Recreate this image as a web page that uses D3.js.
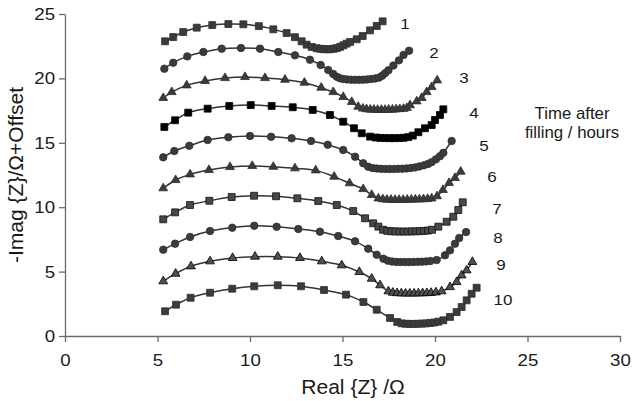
<!DOCTYPE html>
<html>
<head>
<meta charset="utf-8">
<script src="https://cdn.jsdelivr.net/npm/d3@7"></script>
<style>
  body { margin: 0; background: #fff; }
  text { font-family: "Liberation Sans", Arial, Helvetica, sans-serif; fill: #1a1a1a; }
</style>
</head>
<body>
<div id="chart"></div>
<script>
// spectra, one per time after filling (offset already added to -Imag)
const s1 = [[5.41,22.88],[5.85,23.21],[6.39,23.60],[7.12,23.94],[7.96,24.14],[8.83,24.22],[9.64,24.20],[10.48,24.06],[11.26,23.81],[11.98,23.52],[12.43,23.20],[12.79,22.88],[13.06,22.62],[13.34,22.44],[13.60,22.34],[13.80,22.30],[13.98,22.27],[14.16,22.26],[14.34,22.27],[14.52,22.30],[14.70,22.36],[14.88,22.45],[15.05,22.57],[15.22,22.70],[15.41,22.83],[15.77,23.04],[16.09,23.29],[16.49,23.73],[16.85,24.07],[17.17,24.43]];
const s2 = [[5.37,20.75],[5.85,21.22],[6.61,21.71],[7.48,22.05],[8.47,22.31],[9.51,22.36],[10.54,22.31],[11.53,22.05],[12.43,21.79],[13.24,21.45],[13.82,21.04],[14.23,20.65],[14.50,20.34],[14.69,20.13],[14.86,20.01],[15.04,19.95],[15.24,19.92],[15.46,19.90],[15.68,19.89],[15.89,19.89],[16.11,19.90],[16.32,19.92],[16.54,19.95],[16.76,19.99],[16.97,20.06],[17.14,20.20],[17.30,20.40],[17.48,20.63],[17.75,21.00],[18.05,21.40],[18.30,21.82],[18.60,22.15]];
const s3 = [[5.31,18.48],[5.77,18.94],[6.58,19.46],[7.57,19.80],[8.65,20.03],[9.73,20.11],[10.81,20.03],[11.89,19.90],[12.94,19.67],[13.85,19.28],[14.50,18.94],[15.04,18.56],[15.50,18.17],[15.85,17.80],[16.10,17.66],[16.30,17.61],[16.50,17.58],[16.70,17.57],[16.90,17.56],[17.10,17.56],[17.30,17.56],[17.50,17.57],[17.70,17.58],[17.90,17.60],[18.10,17.62],[18.30,17.64],[18.48,17.70],[18.65,17.92],[19.01,18.22],[19.28,18.48],[19.55,18.94],[19.82,19.33],[20.12,19.85]];
const s4 = [[5.37,16.23],[5.95,16.75],[6.66,17.34],[7.71,17.65],[8.88,17.86],[10.04,17.93],[11.17,17.86],[12.31,17.76],[13.39,17.55],[14.32,17.16],[15.04,16.64],[15.62,16.13],[16.04,15.74],[16.49,15.48],[16.80,15.41],[17.05,15.38],[17.30,15.37],[17.55,15.36],[17.80,15.36],[18.05,15.37],[18.30,15.39],[18.55,15.44],[18.80,15.56],[19.10,15.82],[19.46,16.13],[19.82,16.38],[20.00,16.77],[20.27,17.16],[20.45,17.60]];
const s5 = [[5.31,13.87],[5.91,14.36],[6.72,14.77],[7.71,15.22],[8.83,15.43],[10.00,15.53],[11.14,15.47],[12.25,15.35],[13.30,15.14],[14.20,14.85],[15.04,14.44],[15.68,13.92],[16.12,13.41],[16.39,13.14],[16.62,13.04],[16.85,13.00],[17.08,12.98],[17.31,12.97],[17.54,12.97],[17.77,12.97],[18.00,12.98],[18.23,12.99],[18.46,13.01],[18.69,13.04],[18.92,13.09],[19.15,13.16],[19.40,13.25],[19.62,13.36],[19.82,13.50],[20.05,13.72],[20.27,13.96],[20.45,14.22],[20.90,15.14]];
const s6 = [[5.31,11.47],[5.98,12.11],[6.76,12.55],[7.78,12.89],[8.92,13.12],[10.12,13.20],[11.26,13.14],[12.43,13.02],[13.55,12.86],[14.55,12.37],[15.38,11.86],[16.12,11.41],[16.58,10.95],[16.94,10.68],[17.18,10.62],[17.40,10.59],[17.62,10.58],[17.84,10.57],[18.06,10.57],[18.28,10.57],[18.50,10.58],[18.72,10.59],[18.94,10.60],[19.16,10.61],[19.38,10.62],[19.60,10.64],[19.82,10.68],[20.11,10.85],[20.43,11.34],[20.76,11.88],[21.08,12.27],[21.39,12.76]];
const s7 = [[5.31,9.06],[5.95,9.60],[6.76,10.17],[7.80,10.50],[9.01,10.79],[10.22,10.89],[11.41,10.85],[12.56,10.69],[13.69,10.48],[14.69,10.17],[15.58,9.70],[16.22,9.14],[16.66,8.75],[16.94,8.49],[17.19,8.25],[17.42,8.16],[17.64,8.13],[17.86,8.12],[18.08,8.11],[18.30,8.11],[18.52,8.11],[18.74,8.12],[18.96,8.13],[19.18,8.14],[19.40,8.16],[19.62,8.19],[19.84,8.25],[20.18,8.49],[20.63,8.87],[20.99,9.26],[21.26,9.78],[21.50,10.38]];
const s8 = [[5.31,6.70],[5.95,7.17],[6.76,7.69],[7.84,8.15],[9.04,8.41],[10.23,8.56],[11.44,8.48],[12.61,8.31],[13.78,8.10],[14.77,7.76],[15.68,7.35],[16.39,6.78],[16.85,6.31],[17.21,6.00],[17.45,5.85],[17.68,5.78],[17.91,5.75],[18.14,5.74],[18.37,5.74],[18.60,5.74],[18.83,5.75],[19.06,5.76],[19.29,5.77],[19.52,5.79],[19.75,5.82],[20.09,5.90],[20.54,6.27],[20.81,6.65],[21.08,7.17],[21.31,7.61],[21.68,8.07]];
const s9 = [[5.31,4.25],[5.98,4.84],[6.81,5.41],[7.84,5.80],[9.06,6.06],[10.27,6.16],[11.50,6.16],[12.70,6.06],[13.88,5.80],[14.96,5.49],[15.91,4.97],[16.58,4.45],[17.03,3.94],[17.48,3.47],[17.72,3.36],[17.95,3.33],[18.18,3.31],[18.41,3.30],[18.64,3.30],[18.87,3.30],[19.10,3.31],[19.33,3.32],[19.56,3.33],[19.79,3.35],[20.05,3.39],[20.36,3.47],[20.81,3.80],[21.17,4.19],[21.44,4.71],[21.71,5.10],[22.02,5.75]];
const s10 = [[5.41,1.92],[6.00,2.43],[6.79,2.97],[7.84,3.36],[9.04,3.67],[10.23,3.86],[11.50,3.94],[12.76,3.86],[14.00,3.57],[15.19,3.21],[16.13,2.64],[16.85,2.04],[17.57,1.40],[17.96,1.09],[18.20,0.98],[18.42,0.95],[18.64,0.94],[18.86,0.94],[19.08,0.95],[19.30,0.96],[19.52,0.98],[19.74,1.01],[19.96,1.05],[20.18,1.11],[20.45,1.22],[20.81,1.48],[21.17,1.86],[21.44,2.25],[21.71,2.77],[21.98,3.28],[22.25,3.75]];

const hours = ["1","2","3","4","5","6","7","8","9","10"];
// where each hour label sits, in data units
const hourLabelX = [18.38,19.95,21.57,22.11,22.65,23.08,23.35,23.41,23.57,23.68];
const hourLabelY = [24.28,22.05,20.11,17.39,14.83,12.42,9.94,7.69,5.59,2.87];

const xTicks = [0,5,10,15,20,25,30];
const yTicks = [0,5,10,15,20,25];

const allSeries = [s1,s2,s3,s4,s5,s6,s7,s8,s9,s10];

const width = 638, height = 401;
const svg = d3.select("#chart").append("svg")
    .attr("width", width)
    .attr("height", height);

const x = d3.scaleLinear().domain([0,30]).range([65,620]);
const y = d3.scaleLinear().domain([0,25]).range([336,14]);

// axes
const xAxis = svg.append("g")
    .attr("transform", "translate(0," + y(0) + ")")
    .call(d3.axisBottom(x).tickValues(xTicks).tickSize(6).tickSizeOuter(0).tickPadding(12).tickFormat(d3.format("d")));
const yAxis = svg.append("g")
    .attr("transform", "translate(" + x(0) + ",0)")
    .call(d3.axisLeft(y).tickValues(yTicks).tickSize(6).tickSizeOuter(0).tickPadding(3).tickFormat(d3.format("d")));

[xAxis, yAxis].forEach(a => {
    a.select(".domain").attr("stroke", "#6a6a6a").attr("stroke-width", 1.3);
    a.selectAll(".tick line").attr("stroke", "#6a6a6a").attr("stroke-width", 1.3);
    a.selectAll(".tick text")
        .attr("font-family", "Liberation Sans, Arial, sans-serif")
        .attr("font-size", 17)
        .attr("fill", "#222")
        .attr("transform", "scale(1.1,1)");
});

// axis titles
svg.append("g")
    .attr("transform", "translate(353,394) scale(1.08,1)")
    .append("text")
    .attr("text-anchor", "middle")
    .attr("font-size", 19.5)
    .text("Real {Z} /Ω");

svg.append("g")
    .attr("transform", "translate(23,175) rotate(-90) scale(1.08,1)")
    .append("text")
    .attr("text-anchor", "middle")
    .attr("font-size", 19.5)
    .text("-Imag {Z}/Ω+Offset");

// curves
const line = d3.line()
    .x(d => x(d[0]))
    .y(d => y(d[1]))
    .curve(d3.curveCatmullRom.alpha(0.5));

const shapes = [d3.symbolSquare, d3.symbolCircle, d3.symbolTriangle];
const sizes = [48, 44, 34];

allSeries.forEach((data, i) => {
    const g = svg.append("g");
    const k = i % 3;
    let fill = "#3b3b3b", stroke = "#2e2e2e";
    if (i === 3) { fill = "#000"; stroke = "#000"; }
    if (i === 6) { fill = "#484848"; stroke = "#111"; }
    if (i === 8) { fill = "#505050"; stroke = "#000"; }

    g.append("path")
        .datum(data)
        .attr("d", line)
        .attr("fill", "none")
        .attr("stroke", "#333")
        .attr("stroke-width", 1.5);

    g.selectAll("path.pt")
        .data(data)
        .join("path")
        .attr("class", "pt")
        .attr("transform", d => "translate(" + x(d[0]) + "," + y(d[1]) + ")")
        .attr("d", d3.symbol().type(shapes[k]).size(sizes[k]))
        .attr("fill", fill)
        .attr("stroke", stroke)
        .attr("stroke-width", 0.8);
});

// hour labels
hours.forEach((h, i) => {
    svg.append("g")
        .attr("transform", "translate(" + x(hourLabelX[i]) + "," + y(hourLabelY[i]) + ") scale(1.1,1)")
        .append("text")
        .attr("text-anchor", "middle")
        .attr("dy", "0.36em")
        .attr("font-size", 15.5)
        .text(h);
});

const note = svg.append("g")
    .attr("transform", "translate(572,0) scale(1.05,1)");
note.append("text").attr("text-anchor", "middle").attr("y", 119).attr("font-size", 16).text("Time after");
note.append("text").attr("text-anchor", "middle").attr("y", 138).attr("font-size", 16).text("filling / hours");
</script>
</body>
</html>
